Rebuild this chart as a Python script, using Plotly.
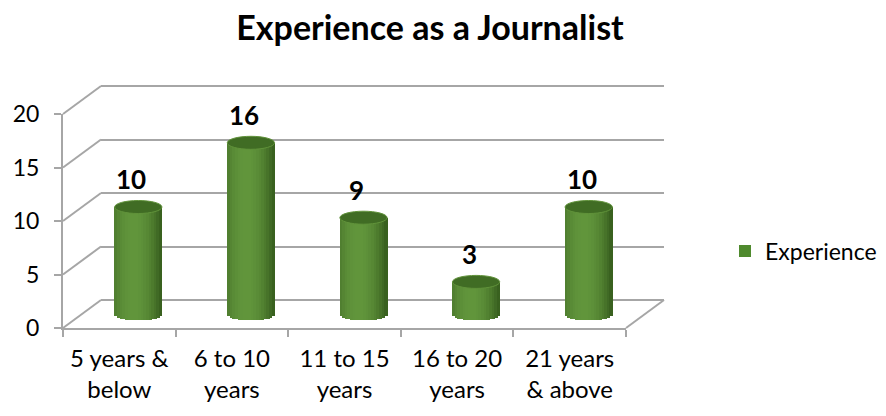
import math
import plotly.graph_objects as go

# ---------------- data ----------------
categories = ["5 years &<br>below", "6 to 10<br>years", "11 to 15<br>years",
              "16 to 20<br>years", "21 years<br>& above"]
values = [10, 16, 9, 3, 10]
series_name = "Experience"
y_ticks = [0, 5, 10, 15, 20]
chart_title = "Experience as a Journalist"

# ---------------- geometry (pixels) ----------------
W, H = 886, 416
FX0, FX1 = 63, 626      # front plane x extent
FY0, FY20 = 328, 114    # front plane y of 0 and 20
DX, DY = 38, -28        # depth offset to back wall
YMAX = 20
ppu = (FY0 - FY20) / YMAX
BAR_W = 0.42            # bar width in category units
ELL_H = 6.5 / ppu       # half height of ellipse (data units)
N_STRIPS = 18
PAD = 0.3               # range padding so edge gridlines are drawn

GRID = "#a6a6a6"
FONT = "Lato"


def px(x):
    return x / W


def py(y):
    return 1 - y / H


fig = go.Figure()

# placeholders so that the back-wall and front-plane subplots get drawn
fig.add_trace(go.Scatter(x=[None], y=[None], xaxis="x", yaxis="y",
                         mode="markers", showlegend=False, hoverinfo="skip"))

# legend / base series bar
fig.add_trace(go.Bar(
    x=categories, y=values, name=series_name, width=BAR_W,
    marker=dict(color="#4f8a2e", line=dict(width=0)),
    xaxis="x2", yaxis="y2", hoverinfo="skip", showlegend=True))

# cylinder shading strips
dark = (50, 88, 27)
light = (98, 150, 60)
for k in range(N_STRIPS):
    t = (k + 0.5) / N_STRIPS
    u = 2 * t - 1
    s = max(0.0, 1 - ((t - 0.40) / 0.62) ** 2)
    col = tuple(int(d + (l - d) * s) for d, l in zip(dark, light))
    base_k = -ELL_H * math.sqrt(max(0.0, 1 - u * u))
    sw = BAR_W / N_STRIPS
    fig.add_trace(go.Bar(
        x=categories, y=[v - base_k for v in values], base=base_k,
        width=sw * 1.25, offset=-BAR_W / 2 + k * sw - sw * 0.1,
        marker=dict(color="rgb(%d,%d,%d)" % col, line=dict(width=0)),
        xaxis="x2", yaxis="y2", hoverinfo="skip", showlegend=False))

fig.add_trace(go.Scatter(x=[None], y=[None], xaxis="x3", yaxis="y3",
                         mode="markers", showlegend=False, hoverinfo="skip"))

shapes = []
# top ellipses of cylinders
for i, v in enumerate(values):
    shapes.append(dict(type="circle", xref="x2", yref="y2",
                       x0=i - BAR_W / 2, x1=i + BAR_W / 2,
                       y0=v - ELL_H, y1=v + ELL_H,
                       fillcolor="rgb(64,108,36)",
                       line=dict(color="rgb(96,146,58)", width=1),
                       layer="above"))

# 3D frame: slanted connectors from front axis to back wall
for v in y_ticks:
    yf = FY0 - v * ppu
    shapes.append(dict(type="line", xref="paper", yref="paper",
                       x0=px(FX0), y0=py(yf), x1=px(FX0 + DX), y1=py(yf + DY),
                       line=dict(color=GRID, width=2), layer="below"))
shapes.append(dict(type="line", xref="paper", yref="paper",
                   x0=px(FX1), y0=py(FY0), x1=px(FX1 + DX), y1=py(FY0 + DY),
                   line=dict(color=GRID, width=2), layer="below"))

annotations = []
for i, v in enumerate(values):
    annotations.append(dict(x=i, y=v, xref="x2", yref="y2", text=str(v),
                            showarrow=False, yanchor="bottom", xanchor="center",
                            yshift=10, xshift=-7,
                            font=dict(family=FONT, size=26, color="black",
                                      weight="bold")))

n = len(categories)
fig.update_layout(
    width=W, height=H,
    margin=dict(l=0, r=0, t=0, b=0, pad=0, autoexpand=False),
    paper_bgcolor="white", plot_bgcolor="rgba(0,0,0,0)",
    font=dict(family=FONT, size=22, color="black"),
    barmode="overlay", bargap=0,
    title=dict(text="<b>%s</b>" % chart_title, x=px(430), xanchor="center",
               y=py(28), yanchor="middle",
               font=dict(family=FONT, size=34, color="black")),
    showlegend=True,
    legend=dict(x=px(725), y=py(251), xanchor="left", yanchor="middle",
                font=dict(family=FONT, size=23, color="black"),
                bgcolor="rgba(0,0,0,0)"),
    shapes=shapes, annotations=annotations,
    # back wall (gridlines)
    xaxis=dict(domain=[px(FX0 + DX), px(FX1 + DX)], range=[-0.5, n - 0.5],
               anchor="y", showgrid=False, zeroline=False, showline=False,
               showticklabels=False, ticks="", automargin=False),
    yaxis=dict(domain=[py(FY0 + DY + PAD * ppu), py(FY20 + DY - PAD * ppu)],
               range=[-PAD, YMAX + PAD], automargin=False,
               anchor="x", tickvals=y_ticks, showgrid=True, gridcolor=GRID,
               gridwidth=2, zeroline=False, showline=False,
               showticklabels=False, ticks=""),
    # mid-depth plane (bars)
    xaxis2=dict(domain=[px(FX0 + DX / 2), px(FX1 + DX / 2)],
                range=[-0.5, n - 0.5], type="category", anchor="y2",
                showgrid=False, zeroline=False, showline=False,
                showticklabels=False, ticks="", automargin=False),
    yaxis2=dict(domain=[py(FY0 + DY / 2 + ppu), py(FY20 + DY / 2)],
                range=[-1, YMAX], anchor="x2", automargin=False,
                showgrid=False, zeroline=False, showline=False,
                showticklabels=False, ticks=""),
    # front plane (axes, ticks, labels)
    xaxis3=dict(domain=[px(FX0), px(FX1)], range=[-0.5, n - 0.5],
                anchor="y3", tickvals=list(range(n)), ticktext=categories,
                ticks="", showgrid=False, zeroline=False, automargin=False,
                showline=True, linecolor=GRID, linewidth=2,
                ticklabelstandoff=8,
                minor=dict(tickvals=[i - 0.5 for i in range(n + 1)],
                           ticks="outside", ticklen=7, tickcolor=GRID,
                           tickwidth=2, showgrid=False),
                tickfont=dict(family=FONT, size=24, color="black")),
    yaxis3=dict(domain=[py(FY0), py(FY20)], range=[0, YMAX], anchor="x3",
                tickvals=y_ticks, ticks="outside", ticklen=7, tickcolor=GRID,
                tickwidth=2, showgrid=False, zeroline=False, automargin=False,
                showline=True, linecolor=GRID, linewidth=2,
                ticklabelstandoff=10,
                tickfont=dict(family=FONT, size=23, color="black")),
)

fig.write_html("out.html")
